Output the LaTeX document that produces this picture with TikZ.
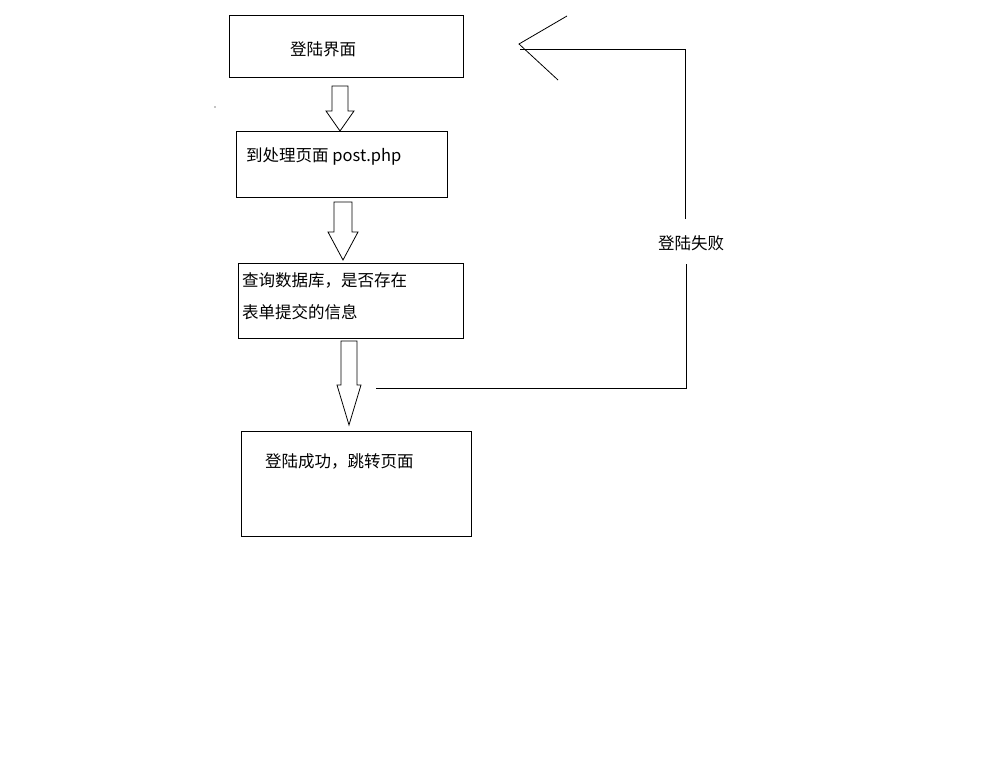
\documentclass[tikz,border=0pt]{standalone}
\usepackage{fontspec}
\setmainfont{Noto Sans CJK SC}
\begin{document}
\begin{tikzpicture}[x=1pt,y=-1pt,
  box/.style={draw,line width=0.8pt},
  lbl/.style={font=\fontsize{16.5}{19}\selectfont,inner sep=0pt,anchor=west},
  ln/.style={line width=0.8pt}]
\useasboundingbox (0,0) rectangle (984,781);
\draw[box] (229,15) rectangle (463,77);
\node[lbl] (t1) at (290,49) {登陆界面};
\draw[box] (236,131) rectangle (447,197);
\node[lbl] (t2) at (246,156) {到处理页面 post.php};
\draw[box] (238,263) rectangle (463,338);
\node[lbl] (t3a) at (242,280) {查询数据库，是否存在};
\node[lbl] (t3b) at (242,312) {表单提交的信息};
\draw[box] (241,431) rectangle (471,536);
\node[lbl] (t4) at (265,461) {登陆成功，跳转页面};
% block arrows
\draw[ln] (332,86) -- (348,86) -- (348,111) -- (354,111) -- (340,131) -- (326,111) -- (332,111) -- cycle;
\draw[ln] (334,202) -- (352,202) -- (352,232) -- (358,232) -- (343,260) -- (328,232) -- (334,232) -- cycle;
\draw[ln] (341,341) -- (357,341) -- (357,385) -- (361,385) -- (349,425) -- (337,385) -- (341,385) -- cycle;
% feedback
\coordinate (a) at (376,388);
\coordinate (b) at (686,388);
\coordinate (c) at (686,264);
\coordinate (d) at (685,219);
\coordinate (e) at (685,49);
\coordinate (f) at (520,49);
\node[lbl] (t5) at (658,243) {登陆失败};
\draw[ln] (a) -- (b) -- (c);
\draw[ln] (d) -- (e) -- (f);
\draw[ln] (567,16) -- (519,44) -- (558,80);
\fill (215,107) circle (0.6);
\end{tikzpicture}
\end{document}
